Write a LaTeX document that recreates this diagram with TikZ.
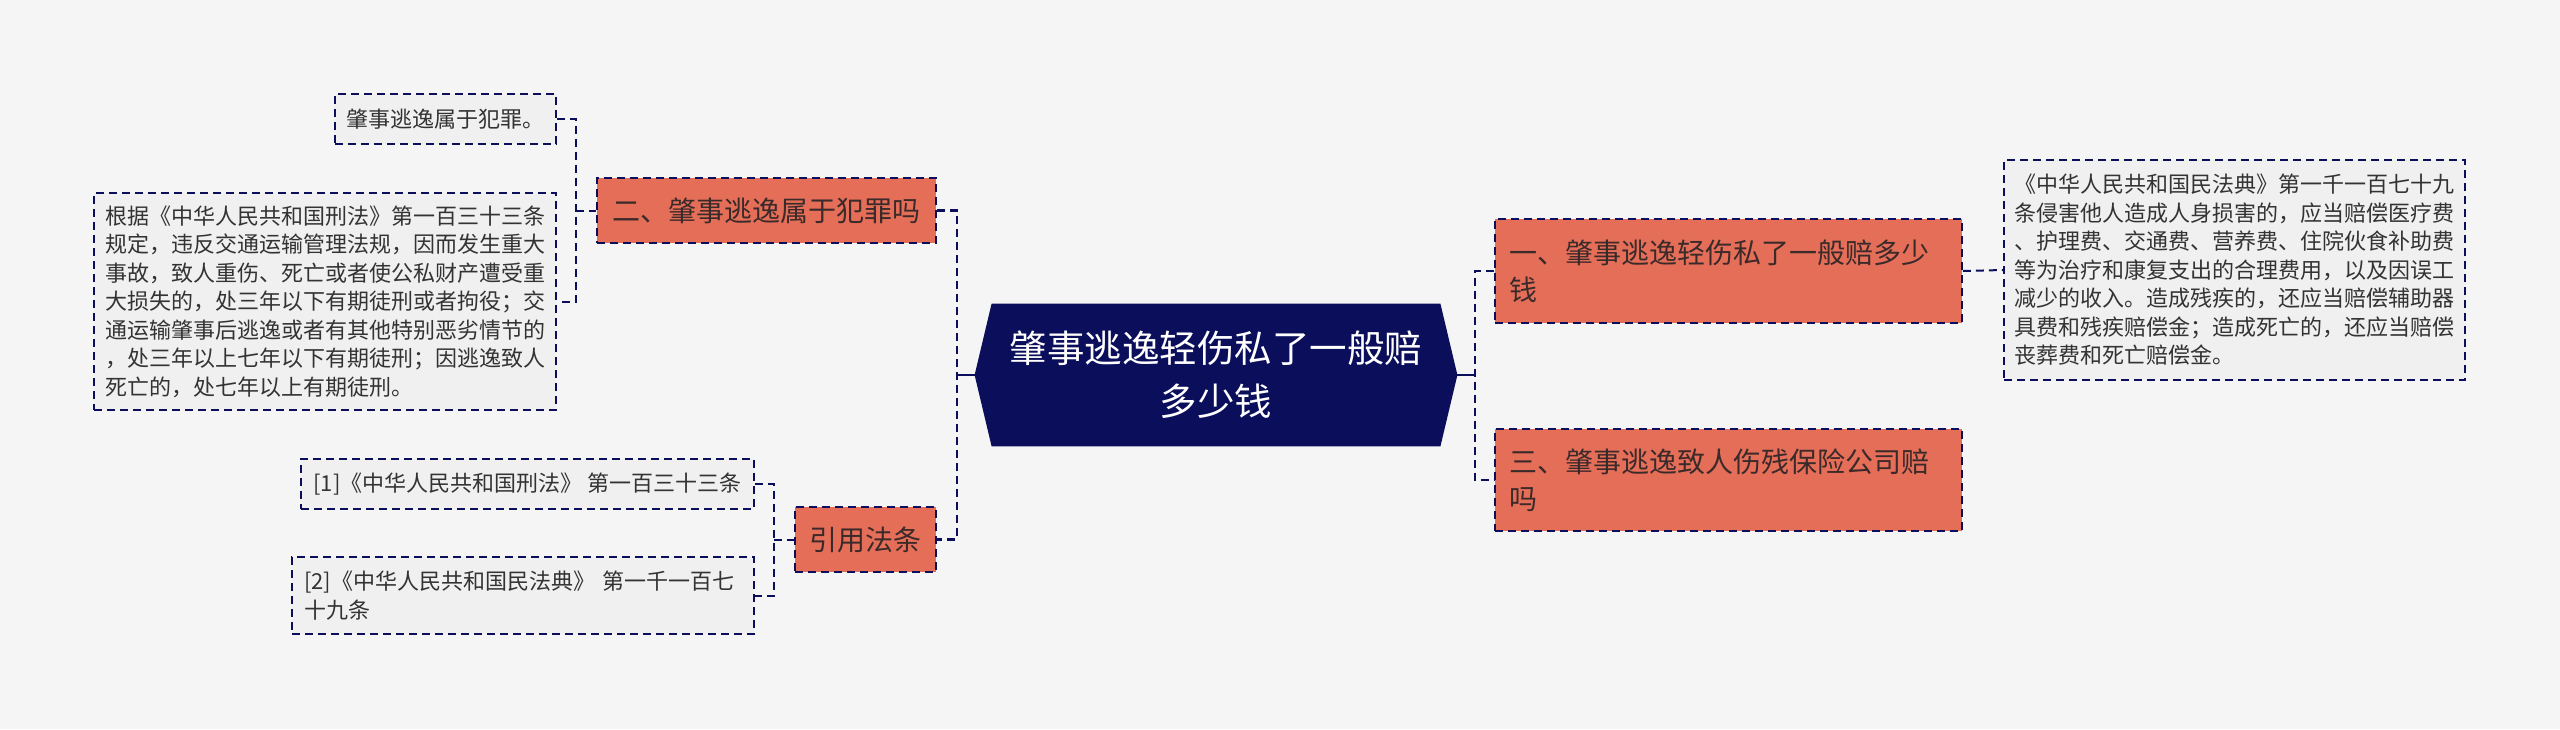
\documentclass[tikz,border=0pt]{standalone}
\usepackage{fontspec}
\setmainfont{Noto Sans CJK SC}
\usetikzlibrary{calc}
\pgfdeclarelayer{bg}
\pgfsetlayers{bg,main}
\definecolor{navy}{HTML}{0B0F5B}
\definecolor{salmon}{HTML}{E56E58}
\definecolor{pagebg}{HTML}{F5F5F5}
\definecolor{leafbg}{HTML}{F0F0F0}
\definecolor{topictext}{HTML}{3B2A2A}
\definecolor{leaftext}{HTML}{333333}
\tikzset{
  dashes/.style={dash pattern=on 4pt off 2.5pt},
  topic/.style={draw=navy, dashes, line width=0.9pt, fill=salmon, text=topictext,
    font=\fontsize{14pt}{18.5pt}\selectfont, inner sep=0pt, align=left},
  leaf/.style={draw=navy, dashes, line width=0.8pt, fill=leafbg, text=leaftext,
    font=\fontsize{11pt}{14.25pt}\selectfont, inner sep=0pt, align=left},
  conn/.style={draw=navy, dashes, line width=1pt},
  trunk/.style={draw=navy, dashes, line width=1.4pt},
  stem/.style={draw=navy, line width=1.4pt},
}
\begin{document}
\begin{tikzpicture}[x=0.5pt,y=-0.5pt]
\useasboundingbox (0,0) rectangle (2560,729);

% root
\node[font=\fontsize{18.75pt}{26.5pt}\selectfont, text=white, align=center,
  minimum width=241pt, minimum height=71pt, inner sep=0pt] (root) at (1216,375)
  {肇事逃逸轻伤私了一般赔\\多少钱};
\begin{pgfonlayer}{bg}
\fill[pagebg] (0,0) rectangle (2560,729);
\fill[navy] ([xshift=8.5pt]root.north west) -- ([xshift=-8.5pt]root.north east)
  -- (root.east) -- ([xshift=-8.5pt]root.south east)
  -- ([xshift=8.5pt]root.south west) -- (root.west) -- cycle;
\end{pgfonlayer}

% topics
\node[topic, minimum width=169.5pt, minimum height=32.5pt] (n2) at (766.5,210.5)
  {二、肇事逃逸属于犯罪吗};
\node[topic, minimum width=70.5pt, minimum height=32.5pt] (n4) at (865.5,539.5)
  {引用法条};
\node[topic, text width=219.5pt, minimum width=233.5pt, minimum height=52pt] (n1) at (1728.5,271)
  {一、肇事逃逸轻伤私了一般赔多少\\钱};
\node[topic, text width=219.5pt, minimum width=233.5pt, minimum height=51pt] (n3) at (1728.5,480)
  {三、肇事逃逸致人伤残保险公司赔\\吗};

% leaves
\node[leaf, minimum width=110.5pt, minimum height=25pt] (L1) at (445.5,119)
  {肇事逃逸属于犯罪。};
\node[leaf, minimum width=231pt, minimum height=108.5pt] (L2) at (325,301.5)
  {根据《中华人民共和国刑法》第一百三十三条\\
   规定，违反交通运输管理法规，因而发生重大\\
   事故，致人重伤、死亡或者使公私财产遭受重\\
   大损失的，处三年以下有期徒刑或者拘役；交\\
   通运输肇事后逃逸或者有其他特别恶劣情节的\\
   ，处三年以上七年以下有期徒刑；因逃逸致人\\
   死亡的，处七年以上有期徒刑。};
\node[leaf, minimum width=226.5pt, minimum height=25pt] (L3) at (527.5,484)
  {[1]《中华人民共和国刑法》 第一百三十三条};
\node[leaf, text width=219pt, minimum width=231pt, minimum height=38.5pt] (L4) at (523,595.5)
  {[2]《中华人民共和国民法典》 第一千一百七\\十九条};
\node[leaf, minimum width=230.5pt, minimum height=110pt] (R1) at (2234.5,270)
  {《中华人民共和国民法典》第一千一百七十九\\
   条侵害他人造成人身损害的，应当赔偿医疗费\\
   、护理费、交通费、营养费、住院伙食补助费\\
   等为治疗和康复支出的合理费用，以及因误工\\
   减少的收入。造成残疾的，还应当赔偿辅助器\\
   具费和残疾赔偿金；造成死亡的，还应当赔偿\\
   丧葬费和死亡赔偿金。};

% junction coordinates
\coordinate (tL) at (957,375);
\coordinate (tR) at (1475,375);
\coordinate (c2) at (576,210.5);
\coordinate (c4) at (774,539.5);

% connectors
\draw[stem] (root.west) -- (tL);
\draw[stem] (root.east) -- (tR);
\draw[trunk] (n2.east) -| (tL) |- (n4.east);
\draw[trunk] (n1.west) -| (tR) |- (n3.west);
\draw[conn] (n1.east) -- (R1.west);
\draw[conn] (L1.east) -| (c2) |- (L2.east);
\draw[conn] (c2) -- (n2.west);
\draw[conn] (L3.east) -| (c4) |- (L4.east);
\draw[conn] (c4) -- (n4.west);
\end{tikzpicture}
\end{document}
